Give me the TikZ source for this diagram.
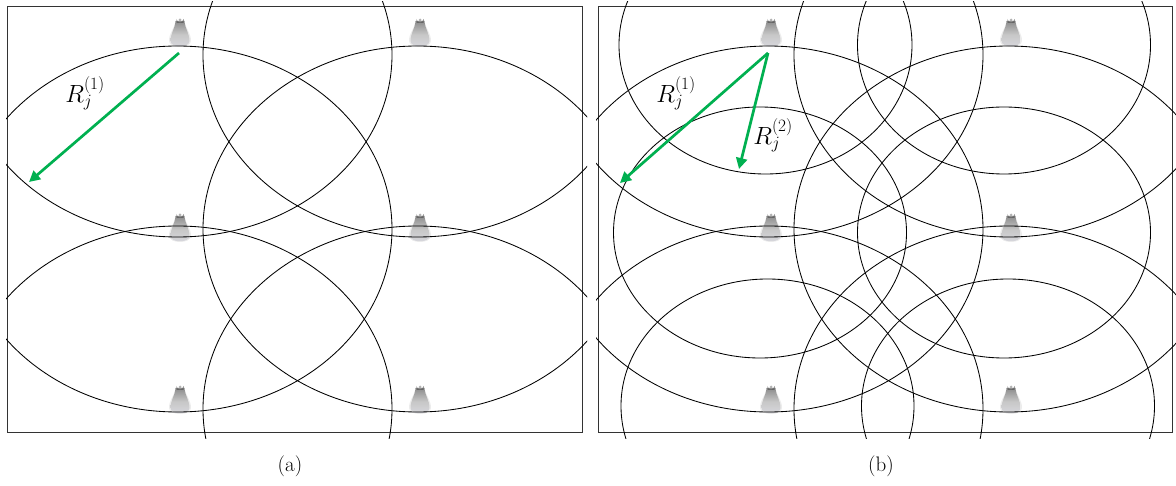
\documentclass[tikz,border=0pt]{standalone}
\usetikzlibrary{arrows.meta}
\definecolor{arrowgreen}{RGB}{0,176,80}
\tikzset{
  frame/.style={draw=black!80,line width=0.9pt},
  beam/.style={draw=black,line width=0.85pt},
  ray/.style={draw=arrowgreen,line width=2.7pt,-{Triangle[length=11pt,width=11pt]}},
  caption/.style={inner sep=0pt,font=\fontsize{21}{24}\selectfont},
  raylabel/.style={inner sep=0pt,font=\fontsize{23}{26}\selectfont},
  bulb/.pic={
    \fill[black!12,opacity=.6] (-11,6) .. controls (-11,-2) and (-6,-6) .. (-5,-12) -- (5,-12) .. controls (6,-6) and (11,-2) .. (11,6) .. controls (11,14) and (-11,14) .. (-11,6) -- cycle;
    \shade[top color=black!45,bottom color=black!15!blue!3!white!88!black,middle color=black!22] (-9.5,6) .. controls (-9.5,-2) and (-5,-6) .. (-4.5,-14) -- (4.5,-14) .. controls (5,-6) and (9.5,-2) .. (9.5,6) .. controls (9.5,13) and (-9.5,13) .. (-9.5,6) -- cycle;
    \fill[black!60] (-3.5,-12) -- (-3.5,-16) arc[start angle=180,end angle=0,radius=3.5] -- (3.5,-12) -- cycle;
    \fill[black!30] (0,-15) circle[radius=1.5];
  }
}
\newcommand{\bulbrow}[2]{%
  \pic at (#1,#2) {bulb};
  \pic at (#1+240,#2) {bulb};
}
\begin{document}
\begin{tikzpicture}[x=1pt,y=-1pt]
\useasboundingbox (0,0) rectangle (1176,486);
% ---- panel a
\bulbrow{180}{35}
\bulbrow{180}{230}
\bulbrow{180}{402}
\draw[frame] (7.5,6.5) rectangle (582,432.5);
\begin{scope}
  \clip (6,2) rectangle (587,438);
  \foreach \cx in {177.5,417.5}
    \foreach \cy/\ry in {55/182,229/183,409/183}
      \draw[beam] (\cx,\cy) ellipse [x radius=214.5,y radius=\ry];
\end{scope}
\coordinate (a0) at (179,53);
\coordinate (a1) at (29,182);
\draw[ray] (a0) -- (a1);
\node[raylabel] (la) at (85,93) {$R_j^{(1)}$};
\node[caption] (ca) at (290,466) {(a)};
% ---- panel b
\bulbrow{771}{35}
\bulbrow{771}{230}
\bulbrow{771}{402}
\draw[frame] (598.5,6.5) rectangle (1172.5,432.5);
\begin{scope}
  \clip (596,2) rectangle (1176,438);
  \foreach \cx in {768.5,1008.5}
    \foreach \cy/\ry in {55/182,229/183,409/183}
      \draw[beam] (\cx,\cy) ellipse [x radius=214.5,y radius=\ry];
  \foreach \cx/\cy/\ry in {765.5/45/129,1004/45/129,760/232.5/125.5,1004/232.5/125.5,767.5/406/127,1008/406/127}
    \draw[beam] (\cx,\cy) ellipse [x radius=146.5,y radius=\ry];
\end{scope}
\coordinate (b0) at (768,53);
\coordinate (b1) at (620,183);
\coordinate (b2) at (739,169);
\draw[ray] (b0) -- (b1);
\draw[ray] (b0) -- (b2);
\node[raylabel] (lb1) at (676,93) {$R_j^{(1)}$};
\node[raylabel] (lb2) at (773,135) {$R_j^{(2)}$};
\node[caption] (cb) at (881,466) {(b)};
\end{tikzpicture}
\end{document}
